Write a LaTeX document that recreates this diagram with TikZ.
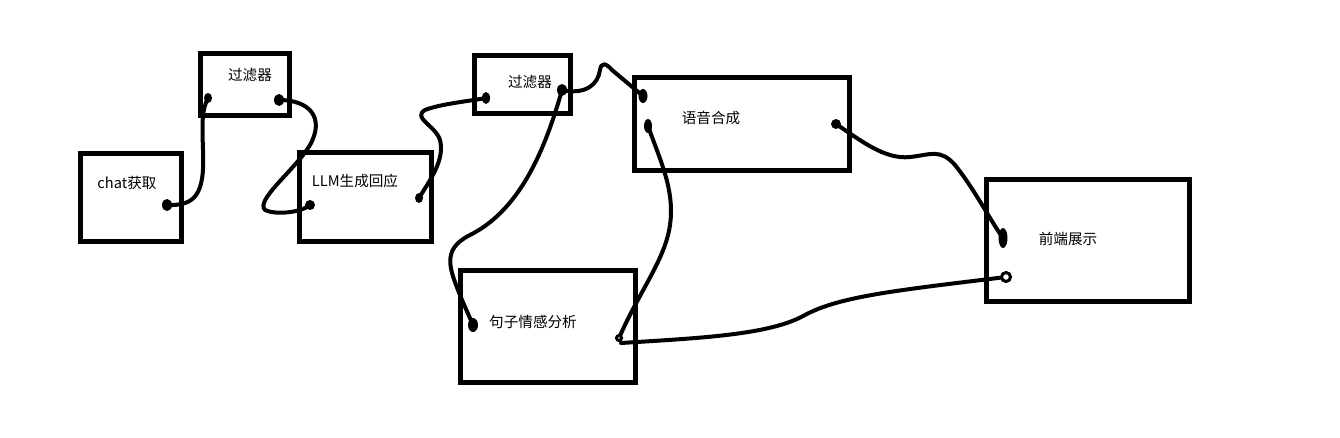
\documentclass[tikz,border=0pt]{standalone}
\usepackage{fontspec}
\newfontfamily\cjk{Noto Sans CJK SC}
\begin{document}
\begin{tikzpicture}[x=1pt,y=-1pt,
  box/.style={draw=black,line width=5pt,inner sep=0pt,minimum width=#1},
  lbl/.style={font=\cjk\fontsize{14.6}{16}\selectfont,inner sep=0pt,text=black},
  wire/.style={draw=black,line width=4pt,line cap=round,line join=round},
  blob/.style={fill=black},
  ring/.style={draw=black,line width=3pt,fill=white}]
\path[use as bounding box,fill=white] (0,0) rectangle (1340,438);
% boxes
\node[box=101pt,minimum height=88pt] (chat) at (130.5,198) {};
\node[box=89pt,minimum height=62pt] (f1) at (244.5,85) {};
\node[box=132pt,minimum height=89pt] (llm) at (365,197.5) {};
\node[box=96pt,minimum height=58pt] (f2) at (522,85) {};
\node[box=215pt,minimum height=93pt] (tts) at (741.5,124.5) {};
\node[box=203pt,minimum height=121pt] (fe) at (1087.5,240.5) {};
\node[box=175pt,minimum height=112pt] (sent) at (547.5,326) {};
% labels
\node[lbl] (tchat) at (127,183) {chat获取};
\node[lbl] (tf1) at (250,75) {过滤器};
\node[lbl] (tllm) at (355,181) {LLM生成回应};
\node[lbl] (tf2) at (530,82) {过滤器};
\node[lbl] (tsent) at (533,322) {句子情感分析};
\node[lbl] (ttts) at (711,118) {语音合成};
\node[lbl] (tfe) at (1068,239) {前端展示};
% endpoints
\coordinate (c1) at (167,205);
\coordinate (f1a) at (208,98);
\coordinate (f1b) at (279,100);
\coordinate (l1) at (310,205);
\coordinate (l2) at (419,198);
\coordinate (f2a) at (486,98);
\coordinate (f2b) at (562,90);
\coordinate (t1) at (643,96);
\coordinate (t2) at (648,126);
\coordinate (t3) at (836,124);
\coordinate (s1) at (473,325);
\coordinate (s2) at (619,338);
\coordinate (e1) at (1003,238);
\coordinate (e2) at (1006,277);
% wires
\draw[wire] (c1) .. controls (195,206) and (205,195) .. (203,150) .. controls (202,120) and (202,110) .. (f1a);
\draw[wire] (f1b) .. controls (310,100) and (325,118) .. (310,145) .. controls (295,170) and (255,200) .. (265,210) .. controls (275,215) and (300,213) .. (l1);
\draw[wire] (l2) .. controls (430,180) and (445,160) .. (440,140) .. controls (435,125) and (412,118) .. (425,110) .. controls (440,104) and (470,101) .. (f2a);
\draw[wire] (f2b) .. controls (585,95) and (598,85) .. (600,70) .. controls (601,62) and (606,63) .. (612,70) -- (t1);
\draw[wire] (f2b) .. controls (545,150) and (520,210) .. (470,235) .. controls (440,250) and (450,270) .. (462,300) -- (s1);
\draw[wire] (t2) .. controls (660,160) and (675,190) .. (670,225) .. controls (665,260) and (640,290) .. (s2);
\draw[wire] (s2) ++(2,5) .. controls (700,338) and (770,335) .. (805,315) .. controls (840,296) and (900,290) .. (e2);
\draw[wire] (t3) .. controls (860,140) and (885,160) .. (910,157) .. controls (930,155) and (940,148) .. (955,165) .. controls (975,190) and (990,220) .. (e1);
% blobs
\fill[blob] (c1) ellipse (5 and 6);
\fill[blob] (f1a) ellipse (4 and 5);
\fill[blob] (f1b) ellipse (5 and 6);
\fill[blob] (l1) ellipse (5 and 5);
\fill[blob] (l2) ellipse (4 and 5);
\fill[blob] (f2a) ellipse (4 and 6);
\fill[blob] (f2b) ellipse (5 and 6);
\fill[blob] (t1) ellipse (4.5 and 7);
\fill[blob] (t2) ellipse (4 and 7);
\fill[blob] (t3) ellipse (5 and 5);
\fill[blob] (s1) ellipse (5 and 7);
\fill[blob] (e1) ellipse (4.5 and 10);
\draw[ring] (s2) circle (2.5);
\draw[ring] (e2) circle (4.5);
\end{tikzpicture}
\end{document}
